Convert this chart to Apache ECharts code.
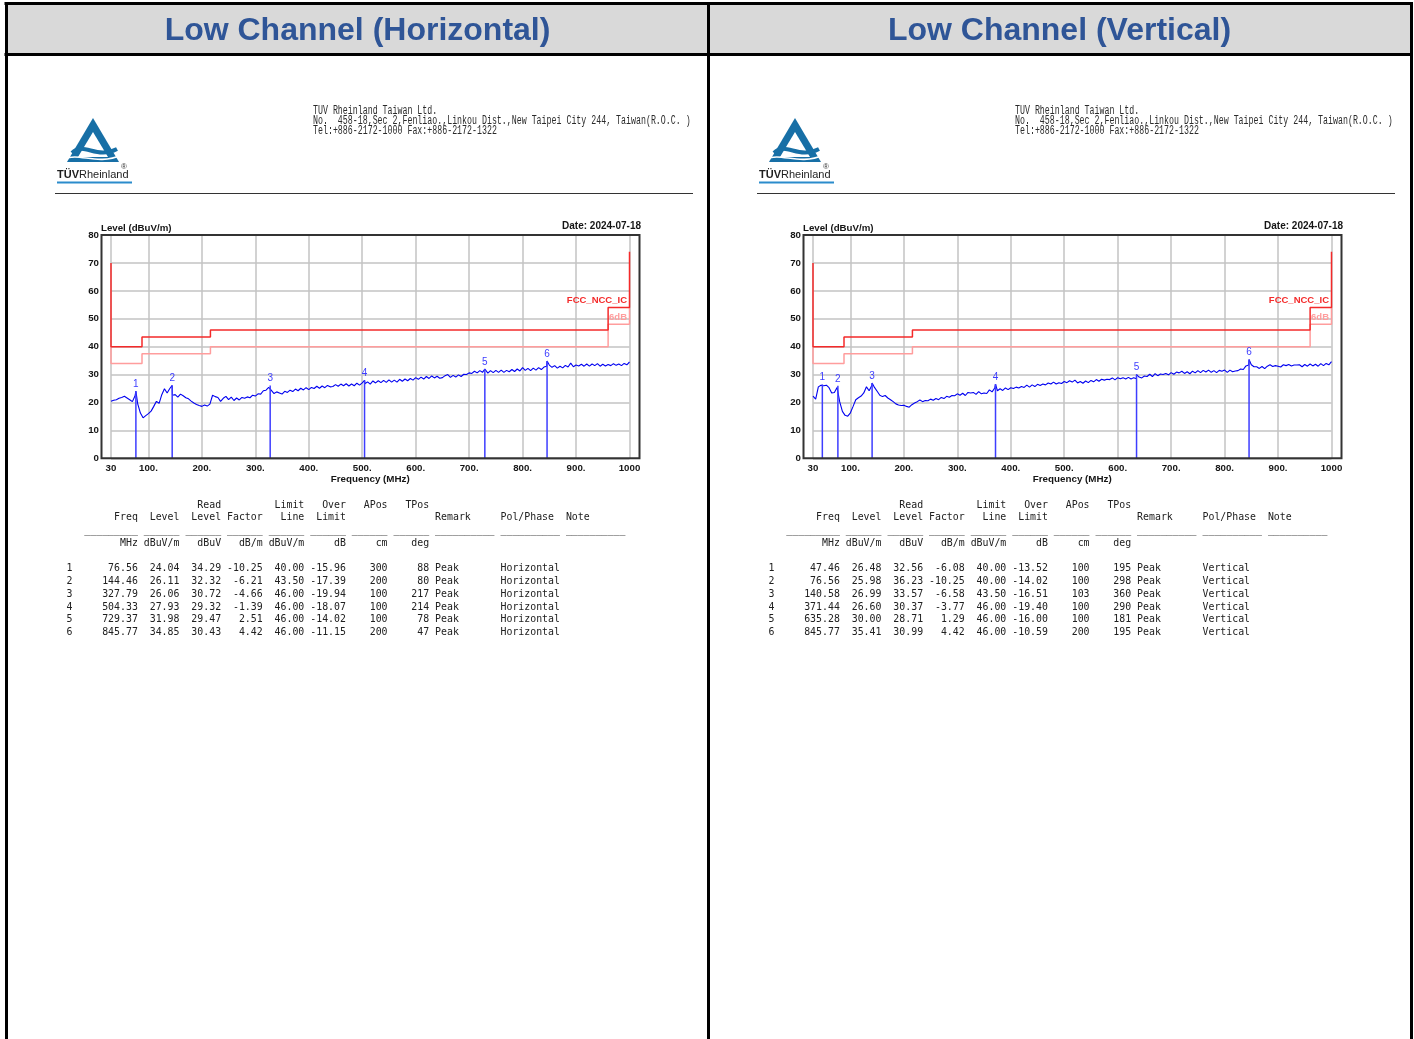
<!DOCTYPE html>
<html>
<head>
<meta charset="utf-8">
<title>Low Channel radiated emission</title>
<script src="https://cdn.jsdelivr.net/npm/echarts@6/dist/echarts.min.js"></script>
<style>
html, body { margin: 0; padding: 0; background: #fff; }
#chart { width: 1414px; height: 1039px; }
</style>
</head>
<body>
<div id="chart"></div>
<script>
// ---- swept trace: scan frequencies (MHz) ----
const scanFreqs = [
  30, 35, 40, 45, 50, 55, 60, 65, 70, 75,
  80, 85, 90, 95, 100, 105, 110, 115, 120, 125,
  130, 135, 140, 145, 150, 155, 160, 165, 170, 175,
  180, 185, 190, 195, 200, 205, 210, 215, 220, 225,
  230, 235, 240, 245, 250, 255, 260, 265, 270, 275,
  280, 285, 290, 295, 300, 305, 310, 315, 320, 325,
  330, 335, 340, 345, 350, 355, 360, 365, 370, 375,
  380, 385, 390, 395, 400, 405, 410, 415, 420, 425,
  430, 435, 440, 445, 450, 455, 460, 465, 470, 475,
  480, 485, 490, 495, 500, 505, 510, 515, 520, 525,
  530, 535, 540, 545, 550, 555, 560, 565, 570, 575,
  580, 585, 590, 595, 600, 605, 610, 615, 620, 625,
  630, 635, 640, 645, 650, 655, 660, 665, 670, 675,
  680, 685, 690, 695, 700, 705, 710, 715, 720, 725,
  730, 735, 740, 745, 750, 755, 760, 765, 770, 775,
  780, 785, 790, 795, 800, 805, 810, 815, 820, 825,
  830, 835, 840, 845, 850, 855, 860, 865, 870, 875,
  880, 885, 890, 895, 900, 905, 910, 915, 920, 925,
  930, 935, 940, 945, 950, 955, 960, 965, 970, 975,
  980, 985, 990, 995, 1000
];

// trace level (dBuV/m), horizontal polarisation
const hTrace = [
  20.4, 20.8, 21.0, 21.5, 21.8, 22.2, 21.6, 21.0, 20.3, 22.4,
  19.5, 16.2, 14.5, 15.3, 16.0, 16.9, 18.6, 20.4, 19.7, 22.8,
  24.9, 23.4, 25.0, 22.6, 22.8, 21.9, 23.0, 22.4, 21.7, 21.3,
  20.5, 19.8, 19.3, 18.9, 18.6, 19.1, 18.7, 19.4, 22.6, 22.1,
  21.8, 20.4, 21.5, 22.2, 21.0, 21.9, 20.7, 21.6, 20.9, 21.8,
  21.5, 22.0, 21.7, 22.6, 22.3, 23.1, 23.0, 24.2, 24.4, 25.4,
  24.3, 23.2, 23.8, 23.4, 23.0, 24.0, 23.6, 24.4, 23.9, 24.8,
  24.2, 25.1, 24.5, 25.3, 24.6, 25.4, 25.0, 25.8, 25.1, 25.9,
  25.3, 26.1, 25.6, 25.7, 26.4, 25.8, 26.6, 26.0, 26.7, 25.9,
  26.6, 26.0, 26.9, 26.2, 27.0, 26.7, 27.4, 26.6, 27.7, 27.0,
  27.8, 27.1, 27.9, 27.2, 28.1, 27.3, 28.0, 27.3, 28.3, 27.6,
  28.4, 27.8, 28.6, 28.0, 28.9, 28.3, 29.1, 28.4, 29.3, 28.6,
  29.5, 28.8, 29.4, 28.7, 28.9, 29.6, 30.0, 29.0, 29.7, 29.1,
  29.9, 29.3, 30.1, 30.0, 30.6, 30.4, 31.2, 30.6, 31.4, 30.8,
  31.3, 30.5, 31.4, 30.7, 31.5, 30.8, 31.6, 30.8, 31.5, 31.0,
  31.8, 31.1, 32.0, 31.3, 32.5, 31.5, 32.2, 31.4, 32.3, 31.6,
  32.5, 31.8, 32.7, 33.0, 33.4, 32.6, 33.2, 32.3, 33.0, 32.4,
  33.3, 32.7, 34.1, 32.8, 33.4, 33.1, 33.7, 33.0, 33.8, 33.0,
  33.8, 33.2, 33.9, 33.0, 33.7, 33.1, 33.6, 33.2, 33.9, 33.3,
  33.8, 33.2, 34.0, 33.5, 34.5
];

// trace level (dBuV/m), vertical polarisation
const vTrace = [
  22.3, 21.2, 25.6, 26.2, 26.0, 26.2, 25.3, 23.4, 23.6, 25.4,
  20.2, 16.8, 15.4, 15.1, 16.3, 18.6, 21.0, 21.7, 22.3, 23.4,
  25.6, 24.2, 26.1, 25.4, 24.0, 22.6, 22.1, 22.5, 21.6, 21.0,
  20.3, 19.5, 19.1, 18.9, 19.0, 18.6, 18.3, 19.2, 19.8, 20.3,
  20.9, 20.3, 20.7, 20.6, 21.2, 20.8, 21.4, 21.0, 21.8, 21.4,
  22.2, 21.9, 22.5, 22.4, 23.1, 22.6, 23.3, 22.5, 23.6, 23.4,
  23.6, 22.9, 23.9, 23.1, 23.4, 23.2, 24.5, 23.8, 25.2, 24.2,
  24.9, 24.3, 25.2, 24.6, 25.3, 25.0, 25.5, 25.2, 25.7, 25.4,
  26.2, 25.5, 26.3, 25.7, 26.5, 26.1, 26.6, 26.3, 27.0, 26.6,
  27.3, 26.6, 27.1, 26.8, 27.5, 27.1, 27.8, 27.3, 28.0, 27.0,
  27.5, 26.9, 27.7, 27.1, 27.9, 27.4, 28.2, 27.6, 28.3, 28.0,
  28.3, 28.2, 28.8, 28.1, 28.9, 28.5, 28.9, 28.4, 29.0, 28.4,
  28.9, 28.5, 29.1, 28.8, 29.5, 29.3, 30.1, 29.3, 30.3, 29.6,
  30.2, 30.0, 30.4, 29.9, 30.7, 30.1, 30.9, 30.6, 31.2, 30.4,
  31.0, 30.3, 31.2, 30.6, 31.4, 30.7, 31.5, 30.9, 31.6, 30.8,
  31.4, 30.7, 31.5, 31.2, 31.6, 30.8, 31.6, 31.0, 31.3, 31.4,
  32.0, 31.8, 33.1, 33.4, 33.5, 32.8, 32.8, 32.2, 32.9, 32.1,
  33.0, 33.5, 32.9, 33.2, 33.0, 32.7, 33.5, 33.2, 33.6, 33.1,
  33.4, 33.4, 33.5, 32.8, 33.6, 33.0, 33.8, 33.1, 33.7, 33.0,
  33.9, 33.2, 34.0, 33.5, 34.6
];

// ---- FCC / NCC / IC class B limit and 6 dB margin ----
const limitEdges = [30, 88, 216, 960, 1000];
const limitLevels = [40, 43.5, 46, 54];
const marginDb = 6;
const limitEndTops = [70, 74];

// ---- axis ticks ----
const xTickValues = [30, 100, 200, 300, 400, 500, 600, 700, 800, 900, 1000];
const yMax = 80;
const yStep = 10;

// ---- peak list, horizontal ----
const hFreq = [76.56, 144.46, 327.79, 504.33, 729.37, 845.77];
const hLevel = [24.04, 26.11, 26.06, 27.93, 31.98, 34.85];
const hRead = [34.29, 32.32, 30.72, 29.32, 29.47, 30.43];
const hFactor = [-10.25, -6.21, -4.66, -1.39, 2.51, 4.42];
const hLimit = [40.00, 43.50, 46.00, 46.00, 46.00, 46.00];
const hOver = [-15.96, -17.39, -19.94, -18.07, -14.02, -11.15];
const hAPos = [300, 200, 100, 100, 100, 200];
const hTPos = [88, 80, 217, 214, 78, 47];

// ---- peak list, vertical ----
const vFreq = [47.46, 76.56, 140.58, 371.44, 635.28, 845.77];
const vLevel = [26.48, 25.98, 26.99, 26.60, 30.00, 35.41];
const vRead = [32.56, 36.23, 33.57, 30.37, 28.71, 30.99];
const vFactor = [-6.08, -10.25, -6.58, -3.77, 1.29, 4.42];
const vLimit = [40.00, 40.00, 43.50, 46.00, 46.00, 46.00];
const vOver = [-13.52, -14.02, -16.51, -19.40, -16.00, -10.59];
const vAPos = [100, 100, 103, 100, 100, 200];
const vTPos = [195, 298, 360, 290, 181, 195];

const remarkText = 'Peak';
const testDate = 'Date: 2024-07-18';
const limitName = 'FCC_NCC_IC';
const marginName = '6dB';
const labName = 'TUV Rheinland Taiwan Ltd.';
const labAddress = 'No.  458-18,Sec 2,Fenliao.,Linkou Dist.,New Taipei City 244, Taiwan(R.O.C. )';
const labPhone = 'Tel:+886-2172-1000 Fax:+886-2172-1322';

// ---------------------------------------------------------------
const SANS = '"Liberation Sans", Arial, sans-serif';
const MONO = '"DejaVu Sans Mono", monospace';
const BLUE_TITLE = '#2f5597';
const LIMIT_RED = '#f42a2a';
const MARGIN_PINK = '#ff9d9d';
const GRID_GRAY = '#c3c3c3';

function stepPoints(levels) {
  const pts = [];
  levels.forEach((v, i) => { pts.push([limitEdges[i], v], [limitEdges[i + 1], v]); });
  return pts;
}

function tracePoints(levels, mFreq, mLevel) {
  const pts = scanFreqs.map((f, i) => [f, levels[i]]);
  mFreq.forEach((f, i) => pts.push([f, mLevel[i]]));
  return pts.sort((a, b) => a[0] - b[0]);
}

function tableText(m, pol) {
  const p = (s, n) => String(s).padStart(n);
  const lines = [];
  lines.push(' '.repeat(19) + p('Read', 7) + ' '.repeat(7) + p('Limit', 7) + p('Over', 7) + p('APos', 7) + p('TPos', 7));
  lines.push(' ' + p('Freq', 11) + p('Level', 7) + p('Level', 7) + p('Factor', 7) + p('Line', 7) + p('Limit', 7) +
    ' '.repeat(15) + 'Remark'.padEnd(11) + 'Pol/Phase'.padEnd(11) + 'Note');
  lines.push('   ' + '_'.repeat(9) + (' ' + '_'.repeat(6)).repeat(7) + (' ' + '_'.repeat(10)).repeat(3));
  lines.push(' ' + p('MHz', 11) + ['dBuV/m', 'dBuV', 'dB/m', 'dBuV/m', 'dB', 'cm', 'deg'].map(s => p(s, 7)).join(''));
  lines.push(' ');
  m.freq.forEach((f, i) => {
    lines.push(String(i + 1) + p(f.toFixed(2), 11) + p(m.level[i].toFixed(2), 7) + p(m.read[i].toFixed(2), 7) +
      p(m.factor[i].toFixed(2), 7) + p(m.limit[i].toFixed(2), 7) + p(m.over[i].toFixed(2), 7) +
      p(m.apos[i], 7) + p(m.tpos[i], 7) + ' ' + remarkText.padEnd(11) + pol);
  });
  return lines.join('\n');
}

function logo(ox) {
  return [
    { type: 'polygon', shape: { points: [[93 + ox, 118], [67 + ox, 162], [119 + ox, 162]] }, style: { fill: '#176fa6' } },
    { type: 'polygon', shape: { points: [[93 + ox, 132], [78 + ox, 157], [108 + ox, 157]] }, style: { fill: '#fff' } },
    { type: 'bezierCurve', shape: { x1: 72 + ox, y1: 153, cpx1: 84 + ox, cpy1: 141, cpx2: 96 + ox, cpy2: 160, x2: 117 + ox, y2: 149 },
      style: { stroke: '#176fa6', lineWidth: 4, fill: null } },
    { type: 'bezierCurve', shape: { x1: 64 + ox, y1: 159, cpx1: 80 + ox, cpy1: 152, cpx2: 96 + ox, cpy2: 166, x2: 122 + ox, y2: 155 },
      style: { stroke: '#fff', lineWidth: 1.6, fill: null } },
    { type: 'text', x: 57 + ox, y: 175, style: { text: '{b|TÜV}{n|Rheinland}', verticalAlign: 'middle', fill: '#1e1e1e',
      rich: { b: { fontWeight: 'bold', fontSize: 11, fontFamily: SANS, fill: '#1e1e1e' }, n: { fontSize: 11, fontFamily: SANS, fill: '#1e1e1e' } } } },
    { type: 'text', x: 124 + ox, y: 167, style: { text: '®', fontSize: 8, fontFamily: SANS, fill: '#333', align: 'center', verticalAlign: 'middle' } },
    { type: 'line', shape: { x1: 57 + ox, y1: 182.5, x2: 132 + ox, y2: 182.5 }, style: { stroke: '#2b8ccc', lineWidth: 2 } }
  ];
}

const GRID_LEFT = 111, GRID_TOP = 235, GRID_W = 518.5, GRID_H = 223.3;

function panel(k, ox, title, traceLevels, m, pol) {
  const grid = { left: GRID_LEFT + ox, top: GRID_TOP, width: GRID_W, height: GRID_H, containLabel: false };
  const axisFont = { fontFamily: SANS, fontWeight: 'bold', fontSize: 9.7, color: '#151515' };
  const xAxis = {
    gridIndex: k, type: 'value', min: xTickValues[0], max: xTickValues[xTickValues.length - 1],
    axisLine: { show: false },
    axisTick: { show: false, customValues: xTickValues },
    axisLabel: Object.assign({ customValues: xTickValues, margin: 5,
      formatter: v => (v === xTickValues[0] || v === xTickValues[xTickValues.length - 1]) ? String(v) : v + '.' }, axisFont),
    splitLine: { show: true, lineStyle: { color: GRID_GRAY, width: 1.5 } },
    name: 'Frequency (MHz)', nameLocation: 'middle', nameGap: 15,
    nameTextStyle: { fontFamily: SANS, fontWeight: 'bold', fontSize: 9.8, color: '#151515' }
  };
  const yAxis = {
    gridIndex: k, type: 'value', min: 0, max: yMax, interval: yStep,
    axisLine: { show: false }, axisTick: { show: false },
    axisLabel: Object.assign({ margin: 12 }, axisFont),
    splitLine: { show: true, lineStyle: { color: GRID_GRAY, width: 1.5 } }
  };
  const series = [
    { type: 'line', xAxisIndex: k, yAxisIndex: k, silent: true, showSymbol: false, z: 2,
      lineStyle: { color: MARGIN_PINK, width: 1.5 },
      data: [[limitEdges[0], limitLevels[0]], ...stepPoints(limitLevels.map(v => v - marginDb)),
             [limitEdges[limitEdges.length - 1], limitLevels[limitLevels.length - 1]]] },
    { type: 'line', xAxisIndex: k, yAxisIndex: k, silent: true, showSymbol: false, z: 3,
      lineStyle: { color: LIMIT_RED, width: 1.5 },
      data: [[limitEdges[0], limitEndTops[0]], ...stepPoints(limitLevels),
             [limitEdges[limitEdges.length - 1], limitEndTops[1]]] },
    { type: 'line', xAxisIndex: k, yAxisIndex: k, silent: true, showSymbol: false, z: 4,
      lineStyle: { color: '#0000f0', width: 1.1 },
      data: tracePoints(traceLevels, m.freq, m.level) },
    { type: 'bar', xAxisIndex: k, yAxisIndex: k, silent: true, barWidth: 1.5, z: 5,
      itemStyle: { color: '#3d3dff' },
      label: { show: true, position: 'top', distance: 2, color: '#3d3dff', fontFamily: SANS, fontSize: 10,
        formatter: p => String(p.dataIndex + 1) },
      data: m.freq.map((f, i) => [f, m.level[i]]) }
  ];
  const graphics = [
    // panel title
    { type: 'text', x: 357.5 + ox, y: 31, style: { text: title, align: 'center', verticalAlign: 'middle',
      fontFamily: SANS, fontWeight: 'bold', fontSize: 32, fill: BLUE_TITLE } },
    // laboratory address
    { type: 'text', x: 313 + ox, y: 105.5, scaleX: 0.69, style: { text: [labName, labAddress, labPhone].join('\n'),
      fontFamily: '"Liberation Mono", monospace', fontSize: 12, lineHeight: 10, verticalAlign: 'top', fill: '#2a2a2a' } },
    { type: 'line', shape: { x1: 55 + ox, y1: 193.5, x2: 693 + ox, y2: 193.5 }, style: { stroke: '#333', lineWidth: 1 } },
    // plot frame
    { type: 'rect', z: 10, shape: { x: 101.5 + ox, y: GRID_TOP, width: 538, height: GRID_H },
      style: { fill: null, stroke: '#333', lineWidth: 2 } },
    { type: 'text', x: 101 + ox, y: 228.3, style: { text: 'Level (dBuV/m)', verticalAlign: 'middle',
      fontFamily: SANS, fontWeight: 'bold', fontSize: 9.7, fill: '#151515' } },
    { type: 'text', x: 641 + ox, y: 226, style: { text: testDate, align: 'right', verticalAlign: 'middle',
      fontFamily: SANS, fontWeight: 'bold', fontSize: 10, fill: '#151515' } },
    { type: 'text', x: 627 + ox, y: 300.5, z: 11, style: { text: limitName, align: 'right', verticalAlign: 'middle',
      fontFamily: SANS, fontWeight: 'bold', fontSize: 9.5, fill: LIMIT_RED } },
    { type: 'text', x: 627 + ox, y: 317.5, z: 11, style: { text: marginName, align: 'right', verticalAlign: 'middle',
      fontFamily: SANS, fontWeight: 'bold', fontSize: 9.5, fill: MARGIN_PINK } },
    // peak table
    { type: 'text', x: 66.5 + ox, y: 498.6, style: { text: tableText(m, pol), fontFamily: MONO, fontSize: 9.9,
      lineHeight: 12.75, verticalAlign: 'top', fill: '#202020' } }
  ].concat(logo(ox));
  return { grid, xAxis, yAxis, series, graphics };
}

const left = panel(0, 0, 'Low Channel (Horizontal)', hTrace,
  { freq: hFreq, level: hLevel, read: hRead, factor: hFactor, limit: hLimit, over: hOver, apos: hAPos, tpos: hTPos }, 'Horizontal');
const right = panel(1, 702, 'Low Channel (Vertical)', vTrace,
  { freq: vFreq, level: vLevel, read: vRead, factor: vFactor, limit: vLimit, over: vOver, apos: vAPos, tpos: vTPos }, 'Vertical');

// page frame: grey title band and black cell borders
const frame = [
  { type: 'rect', z: -1, shape: { x: 6, y: 3, width: 1406, height: 52 }, style: { fill: '#d9d9d9' } },
  { type: 'line', shape: { x1: 4.5, y1: 3.5, x2: 1413, y2: 3.5 }, style: { stroke: '#000', lineWidth: 3 } },
  { type: 'line', shape: { x1: 4.5, y1: 54.5, x2: 1413, y2: 54.5 }, style: { stroke: '#000', lineWidth: 3 } },
  { type: 'line', shape: { x1: 6.5, y1: 2, x2: 6.5, y2: 1039 }, style: { stroke: '#000', lineWidth: 3 } },
  { type: 'line', shape: { x1: 708.5, y1: 2, x2: 708.5, y2: 1039 }, style: { stroke: '#000', lineWidth: 3 } },
  { type: 'line', shape: { x1: 1411.5, y1: 2, x2: 1411.5, y2: 1039 }, style: { stroke: '#000', lineWidth: 3 } }
];

const chart = echarts.init(document.getElementById('chart'), null, { renderer: 'canvas', width: 1414, height: 1039 });
chart.setOption({
  animation: false,
  backgroundColor: '#ffffff',
  grid: [left.grid, right.grid],
  xAxis: [left.xAxis, right.xAxis],
  yAxis: [left.yAxis, right.yAxis],
  series: left.series.concat(right.series),
  graphic: { elements: frame.concat(left.graphics, right.graphics) }
});
</script>
</body>
</html>
